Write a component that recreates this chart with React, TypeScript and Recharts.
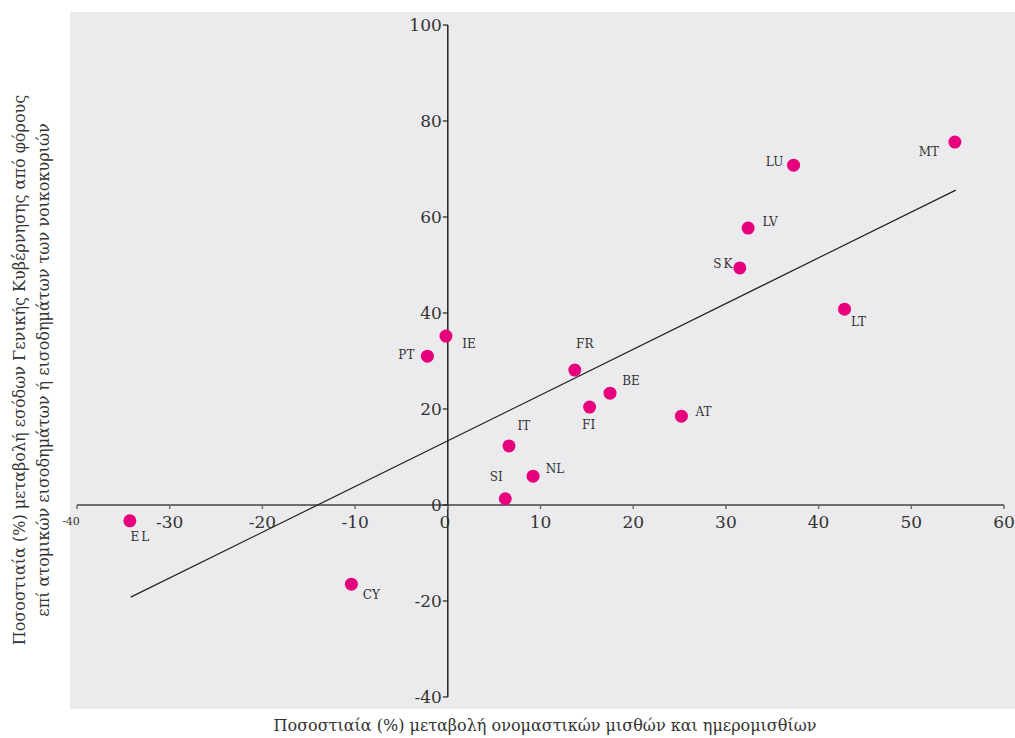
import { ReferenceDot, ReferenceLine, Scatter, ScatterChart, XAxis, YAxis } from "recharts"

const countries = ["EL", "CY", "PT", "IE", "FR", "BE", "FI", "AT", "IT", "NL", "SI", "LU", "MT", "LV", "SK", "LT"]
const wageChange = [-34.3, -10.4, -2.2, -0.2, 13.7, 17.5, 15.3, 25.2, 6.6, 9.2, 6.2, 37.3, 54.7, 32.4, 31.5, 42.8]
const taxChange = [-3.3, -16.5, 31.0, 35.2, 28.1, 23.3, 20.4, 18.5, 12.3, 6.0, 1.3, 70.8, 75.6, 57.7, 49.4, 40.8]
const trendLine = [
  { x: -34.2, y: -19.2 },
  { x: 54.8, y: 65.6 },
]
const xTicks = [-40, -30, -20, -10, 0, 10, 20, 30, 40, 50, 60]
const yTicks = [-40, -20, 0, 20, 40, 60, 80, 100]

// where each country code sits relative to its dot
const labelOffset: Record<string, [number, number]> = {
  EL: [11, 16],
  CY: [20, 11],
  PT: [-21, -1],
  IE: [23, 8],
  FR: [10, -26],
  BE: [21, -12],
  FI: [-1, 18],
  AT: [22, -4],
  IT: [15, -20],
  NL: [22, -7],
  SI: [-9, -22],
  LU: [-19, -3],
  MT: [-26, 10],
  LV: [22, -6],
  SK: [-16, -4],
  LT: [14, 13],
}

const points = countries.map((name, i) => ({ name, x: wageChange[i], y: taxChange[i] }))

const FONT = "'DejaVu Serif', serif"
const PINK = "#e6007e"

function Dot(props: any) {
  const { cx, cy, payload } = props
  const [dx, dy] = labelOffset[payload.name] ?? [14, 0]
  return (
    <g>
      <circle cx={cx} cy={cy} r={6.5} fill={PINK} />
      <text
        x={cx + dx}
        y={cy + dy}
        textAnchor="middle"
        dominantBaseline="central"
        fontFamily={FONT}
        fontSize={12}
        fill="#333"
        letterSpacing={payload.name === "EL" || payload.name === "SK" ? 2 : 0}
      >
        {payload.name}
      </text>
    </g>
  )
}

function XTick({ cx, cy, value }: any) {
  const small = value === -40
  return (
    <g>
      <line x1={cx} y1={cy} x2={cx} y2={cy + 4} stroke="#6d6d6d" strokeWidth={1.5} />
      <text
        x={small ? cx - 6 : value === 0 ? cx - 3 : cx}
        y={small ? cy + 20 : cy + 23}
        textAnchor="middle"
        fontFamily={FONT}
        fontSize={small ? 11 : 17}
        fill="#333"
      >
        {value}
      </text>
    </g>
  )
}

function YTick({ cx, cy, value }: any) {
  return (
    <g>
      <line x1={cx - 5} y1={cy} x2={cx} y2={cy} stroke="#222" strokeWidth={1.2} />
      <text
        x={cx - 6}
        y={cy}
        textAnchor="end"
        dominantBaseline="central"
        fontFamily={FONT}
        fontSize={17}
        fill="#333"
      >
        {value}
      </text>
    </g>
  )
}

export default function App() {
  return (
    <div style={{ position: "absolute", left: 0, top: 0, width: 1015, height: 738, background: "#fff" }}>
      <div style={{ position: "absolute", left: 70, top: 12, width: 945, height: 697, background: "#ebebed" }} />
      <div style={{ position: "absolute", left: 0, top: 0 }}>
        <ScatterChart width={1015} height={738} margin={{ top: 25, right: 11, bottom: 41, left: 77 }}>
          <XAxis type="number" dataKey="x" domain={[-40, 60]} hide />
          <YAxis type="number" dataKey="y" domain={[-40, 100]} hide />
          <ReferenceLine y={0} stroke="#6d6d6d" strokeWidth={2} />
          <ReferenceLine x={0} stroke="#222" strokeWidth={1.5} />
          <ReferenceLine segment={trendLine} stroke="#222" strokeWidth={1.2} />
          {xTicks.map((t) => (
            <ReferenceDot
              key={"x" + t}
              x={t}
              y={0}
              r={0}
              shape={(p: any) => <XTick {...p} value={t} />}
            />
          ))}
          {yTicks.map((t) => (
            <ReferenceDot
              key={"y" + t}
              x={0}
              y={t}
              r={0}
              shape={(p: any) => <YTick {...p} value={t} />}
            />
          ))}
          <Scatter data={points} shape={Dot} isAnimationActive={false} />
        </ScatterChart>
      </div>
      <div
        style={{
          position: "absolute",
          left: 0,
          width: 1090,
          top: 716,
          textAlign: "center",
          fontFamily: FONT,
          fontSize: 16,
          color: "#333",
        }}
      >
        Ποσοστιαία (%) μεταβολή ονομαστικών μισθών και ημερομισθίων
      </div>
      <div
        style={{
          position: "absolute",
          left: 32,
          top: 370,
          width: 700,
          transform: "translate(-50%, -50%) rotate(-90deg)",
          textAlign: "center",
          fontFamily: FONT,
          fontSize: 16,
          lineHeight: "24px",
          color: "#333",
        }}
      >
        Ποσοστιαία (%) μεταβολή εσόδων Γενικής Κυβέρνησης από φόρους
        <br />
        επί ατομικών εισοδημάτων ή εισοδημάτων των νοικοκυριών
      </div>
    </div>
  )
}
